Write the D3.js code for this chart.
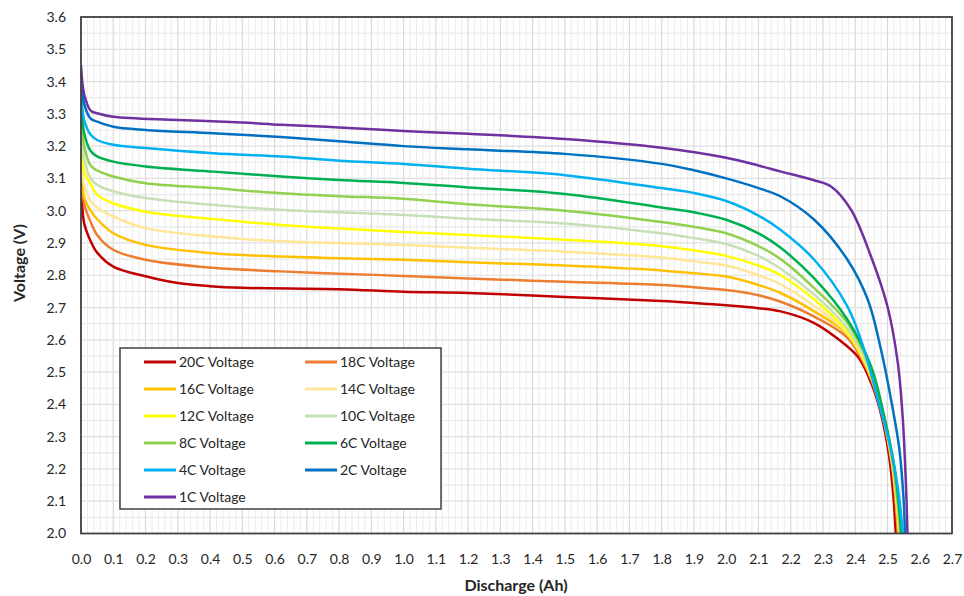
<!DOCTYPE html>
<html>
<head>
<meta charset="utf-8">
<script src="https://cdn.jsdelivr.net/npm/d3@7"></script>
<style>
  html, body { margin: 0; padding: 0; background: #fff; }
  svg { display: block; font-family: Lato, "Open Sans", sans-serif; }
</style>
</head>
<body>
<svg id="chart" width="964" height="596"></svg>
<script>
// Discharge curves: [capacity (Ah), voltage (V)] for each C-rate
const c1C = [[0,3.45],[0.01,3.36],[0.03,3.31],[0.05,3.302],[0.1,3.291],[0.3,3.281],[0.5,3.273],[0.62,3.266],[0.8,3.258],[1.0,3.247],[1.2,3.238],[1.5,3.222],[1.8,3.195],[2.0,3.164],[2.1,3.14],[2.17,3.121],[2.27,3.095],[2.325,3.075],[2.387,3.003],[2.449,2.858],[2.5,2.703],[2.532,2.529],[2.547,2.363],[2.557,2.158],[2.562,2.0]];
const c2C = [[0,3.42],[0.01,3.33],[0.03,3.285],[0.05,3.276],[0.1,3.26],[0.2,3.25],[0.41,3.24],[0.62,3.228],[0.8,3.215],[1.0,3.2],[1.2,3.19],[1.5,3.176],[1.8,3.145],[1.9,3.125],[2.0,3.1],[2.1,3.07],[2.169,3.044],[2.273,2.972],[2.376,2.848],[2.439,2.724],[2.48,2.569],[2.511,2.415],[2.537,2.26],[2.55,2.105],[2.554,2.0]];
const c4C = [[0,3.38],[0.01,3.28],[0.03,3.235],[0.05,3.219],[0.1,3.204],[0.2,3.194],[0.41,3.178],[0.62,3.168],[0.8,3.155],[1.0,3.145],[1.2,3.13],[1.5,3.11],[1.8,3.07],[1.9,3.055],[2.0,3.03],[2.1,2.985],[2.169,2.94],[2.273,2.848],[2.376,2.703],[2.428,2.569],[2.47,2.415],[2.511,2.26],[2.537,2.105],[2.547,2.0]];
const c6C = [[0,3.35],[0.01,3.24],[0.03,3.185],[0.05,3.168],[0.1,3.152],[0.2,3.137],[0.41,3.121],[0.62,3.106],[0.8,3.095],[1.0,3.086],[1.2,3.072],[1.5,3.052],[1.8,3.01],[1.9,2.995],[2.0,2.972],[2.1,2.93],[2.169,2.885],[2.273,2.79],[2.376,2.662],[2.449,2.518],[2.49,2.363],[2.521,2.208],[2.538,2.06],[2.542,2.0]];
const c8C = [[0,3.32],[0.01,3.2],[0.03,3.14],[0.05,3.125],[0.1,3.106],[0.2,3.085],[0.41,3.07],[0.62,3.054],[0.8,3.045],[1.0,3.037],[1.2,3.02],[1.5,3.0],[1.8,2.965],[1.9,2.95],[2.0,2.93],[2.1,2.89],[2.169,2.85],[2.273,2.76],[2.376,2.652],[2.44,2.53],[2.485,2.37],[2.518,2.21],[2.535,2.06],[2.54,2.0]];
const c10C = [[0,3.28],[0.01,3.16],[0.03,3.1],[0.05,3.08],[0.1,3.06],[0.2,3.039],[0.41,3.018],[0.62,3.003],[0.8,2.995],[1.0,2.987],[1.2,2.975],[1.5,2.96],[1.8,2.93],[1.9,2.915],[2.0,2.897],[2.1,2.86],[2.169,2.82],[2.273,2.74],[2.376,2.635],[2.44,2.52],[2.485,2.37],[2.517,2.21],[2.534,2.06],[2.539,2.0]];
const c12C = [[0,3.25],[0.01,3.12],[0.028,3.086],[0.05,3.05],[0.1,3.023],[0.2,2.997],[0.41,2.974],[0.62,2.956],[0.8,2.945],[1.0,2.934],[1.2,2.925],[1.5,2.91],[1.8,2.89],[1.9,2.877],[2.0,2.86],[2.1,2.83],[2.169,2.8],[2.273,2.725],[2.376,2.625],[2.44,2.515],[2.485,2.37],[2.517,2.21],[2.533,2.06],[2.538,2.0]];
const c14C = [[0,3.2],[0.01,3.08],[0.03,3.03],[0.05,3.01],[0.1,2.982],[0.2,2.946],[0.41,2.92],[0.62,2.905],[0.8,2.9],[1.0,2.894],[1.2,2.885],[1.5,2.873],[1.8,2.855],[1.9,2.843],[2.0,2.83],[2.1,2.8],[2.169,2.772],[2.273,2.705],[2.376,2.62],[2.44,2.51],[2.485,2.37],[2.516,2.21],[2.532,2.06],[2.537,2.0]];
const c16C = [[0,3.17],[0.01,3.04],[0.03,3.0],[0.049,2.975],[0.1,2.93],[0.2,2.894],[0.41,2.868],[0.62,2.858],[0.8,2.853],[1.0,2.848],[1.2,2.84],[1.5,2.83],[1.8,2.815],[1.9,2.806],[2.0,2.796],[2.1,2.77],[2.169,2.745],[2.273,2.688],[2.376,2.616],[2.44,2.505],[2.484,2.37],[2.515,2.21],[2.53,2.06],[2.535,2.0]];
const c18C = [[0,3.13],[0.01,3.02],[0.028,2.97],[0.05,2.925],[0.1,2.879],[0.2,2.848],[0.41,2.823],[0.62,2.812],[0.8,2.805],[1.0,2.798],[1.2,2.79],[1.5,2.78],[1.8,2.77],[1.9,2.763],[2.0,2.754],[2.1,2.738],[2.169,2.718],[2.273,2.672],[2.376,2.606],[2.44,2.5],[2.483,2.37],[2.514,2.21],[2.528,2.06],[2.532,2.0]];
const c20C = [[0,3.1],[0.01,2.96],[0.028,2.91],[0.05,2.87],[0.1,2.827],[0.2,2.797],[0.3,2.776],[0.4,2.766],[0.5,2.761],[0.8,2.757],[1.0,2.749],[1.2,2.745],[1.5,2.733],[1.8,2.72],[1.9,2.714],[2.0,2.707],[2.1,2.698],[2.169,2.688],[2.273,2.652],[2.35,2.6],[2.41,2.545],[2.45,2.465],[2.48,2.37],[2.505,2.24],[2.518,2.12],[2.524,2.03],[2.526,2.0]];

const seriesNames = ["20C Voltage","18C Voltage","16C Voltage","14C Voltage","12C Voltage","10C Voltage","8C Voltage","6C Voltage","4C Voltage","2C Voltage","1C Voltage"];
const seriesData = [c20C, c18C, c16C, c14C, c12C, c10C, c8C, c6C, c4C, c2C, c1C];
const seriesColors = ["#c00000","#ed7d31","#ffc000","#ffe699","#ffff00","#c5e0b4","#92d050","#00b050","#00b0f0","#0070c0","#7030a0"];

const xTicks = d3.range(0, 28).map(i => +(i / 10).toFixed(1));
const yTicks = d3.range(20, 37).map(i => +(i / 10).toFixed(1));

const svg = d3.select("#chart");
const m = { left: 81, right: 952, top: 17, bottom: 533.5 };

const x = d3.scaleLinear().domain([0, 2.7]).range([m.left, m.right]);
const y = d3.scaleLinear().domain([2.0, 3.6]).range([m.bottom, m.top]);

// gridlines
const grid = svg.append("g");
const minorX = d3.range(0, 136).map(i => i * 0.02).filter(v => Math.abs(v * 10 - Math.round(v * 10)) > 1e-6);
grid.selectAll("line.vminor").data(minorX).join("line")
  .attr("x1", d => x(d)).attr("x2", d => x(d))
  .attr("y1", m.top).attr("y2", m.bottom)
  .attr("stroke", "#ececec").attr("stroke-width", 1);
const minorY = d3.range(0, 32).map(i => 2.05 + i * 0.1).filter(v => v < 3.6);
grid.selectAll("line.hminor").data(minorY).join("line")
  .attr("x1", m.left).attr("x2", m.right)
  .attr("y1", d => y(d)).attr("y2", d => y(d))
  .attr("stroke", "#e9e9e9").attr("stroke-width", 1.2);
grid.selectAll("line.vmajor").data(xTicks).join("line")
  .attr("x1", d => x(d)).attr("x2", d => x(d))
  .attr("y1", m.top).attr("y2", m.bottom)
  .attr("stroke", "#d9d9d9").attr("stroke-width", 1.2);
grid.selectAll("line.hmajor").data(yTicks).join("line")
  .attr("x1", m.left).attr("x2", m.right)
  .attr("y1", d => y(d)).attr("y2", d => y(d))
  .attr("stroke", "#e0e0e0").attr("stroke-width", 1.2);

// curves
svg.append("clipPath").attr("id", "plotClip")
  .append("rect").attr("x", m.left).attr("y", m.top)
  .attr("width", m.right - m.left).attr("height", m.bottom - m.top);

const line = d3.line().x(d => x(d[0])).y(d => y(d[1])).curve(d3.curveCatmullRom.alpha(0.5));
svg.append("g").attr("clip-path", "url(#plotClip)")
  .selectAll("path").data(seriesData).join("path")
  .attr("d", line)
  .attr("fill", "none")
  .attr("stroke", (d, i) => seriesColors[i])
  .attr("stroke-width", 2.5)
  .attr("stroke-linejoin", "round");

// frame
svg.append("rect")
  .attr("x", m.left).attr("y", m.top)
  .attr("width", m.right - m.left).attr("height", m.bottom - m.top)
  .attr("fill", "none").attr("stroke", "#404040").attr("stroke-width", 1.8);

// axes
const xAxis = svg.append("g").attr("transform", `translate(0,${m.bottom})`)
  .call(d3.axisBottom(x).tickValues(xTicks).tickFormat(d3.format(".1f")).tickSize(0).tickPadding(21));
const yAxis = svg.append("g").attr("transform", `translate(${m.left},0)`)
  .call(d3.axisLeft(y).tickValues(yTicks).tickFormat(d3.format(".1f")).tickSize(0).tickPadding(15));
[xAxis, yAxis].forEach(a => {
  a.select(".domain").remove();
  a.selectAll("text").attr("font-family", "Lato, 'Open Sans', sans-serif")
    .attr("font-size", 14).attr("fill", "#262626");
});

// axis titles
svg.append("text").attr("x", 516).attr("y", 591)
  .attr("text-anchor", "middle").attr("font-size", 16).attr("font-weight", "bold")
  .attr("fill", "#262626").text("Discharge (Ah)");
svg.append("text").attr("transform", "translate(25,263) rotate(-90)")
  .attr("text-anchor", "middle").attr("font-size", 16).attr("font-weight", "bold")
  .attr("fill", "#262626").text("Voltage (V)");

// legend
const lg = svg.append("g");
lg.append("rect").attr("x", 120).attr("y", 348).attr("width", 321).attr("height", 161)
  .attr("fill", "#fff").attr("stroke", "#404040").attr("stroke-width", 1.5);
const items = lg.selectAll("g.item").data(seriesNames).join("g")
  .attr("transform", (d, i) => `translate(${i % 2 === 0 ? 144 : 305},${362 + Math.floor(i / 2) * 27})`);
items.append("line").attr("x1", 0).attr("x2", 32).attr("y1", 0).attr("y2", 0)
  .attr("stroke", (d, i) => seriesColors[i]).attr("stroke-width", 3);
items.append("text").attr("x", 35).attr("y", 5)
  .attr("font-size", 14).attr("fill", "#262626").text(d => d);
</script>
</body>
</html>
